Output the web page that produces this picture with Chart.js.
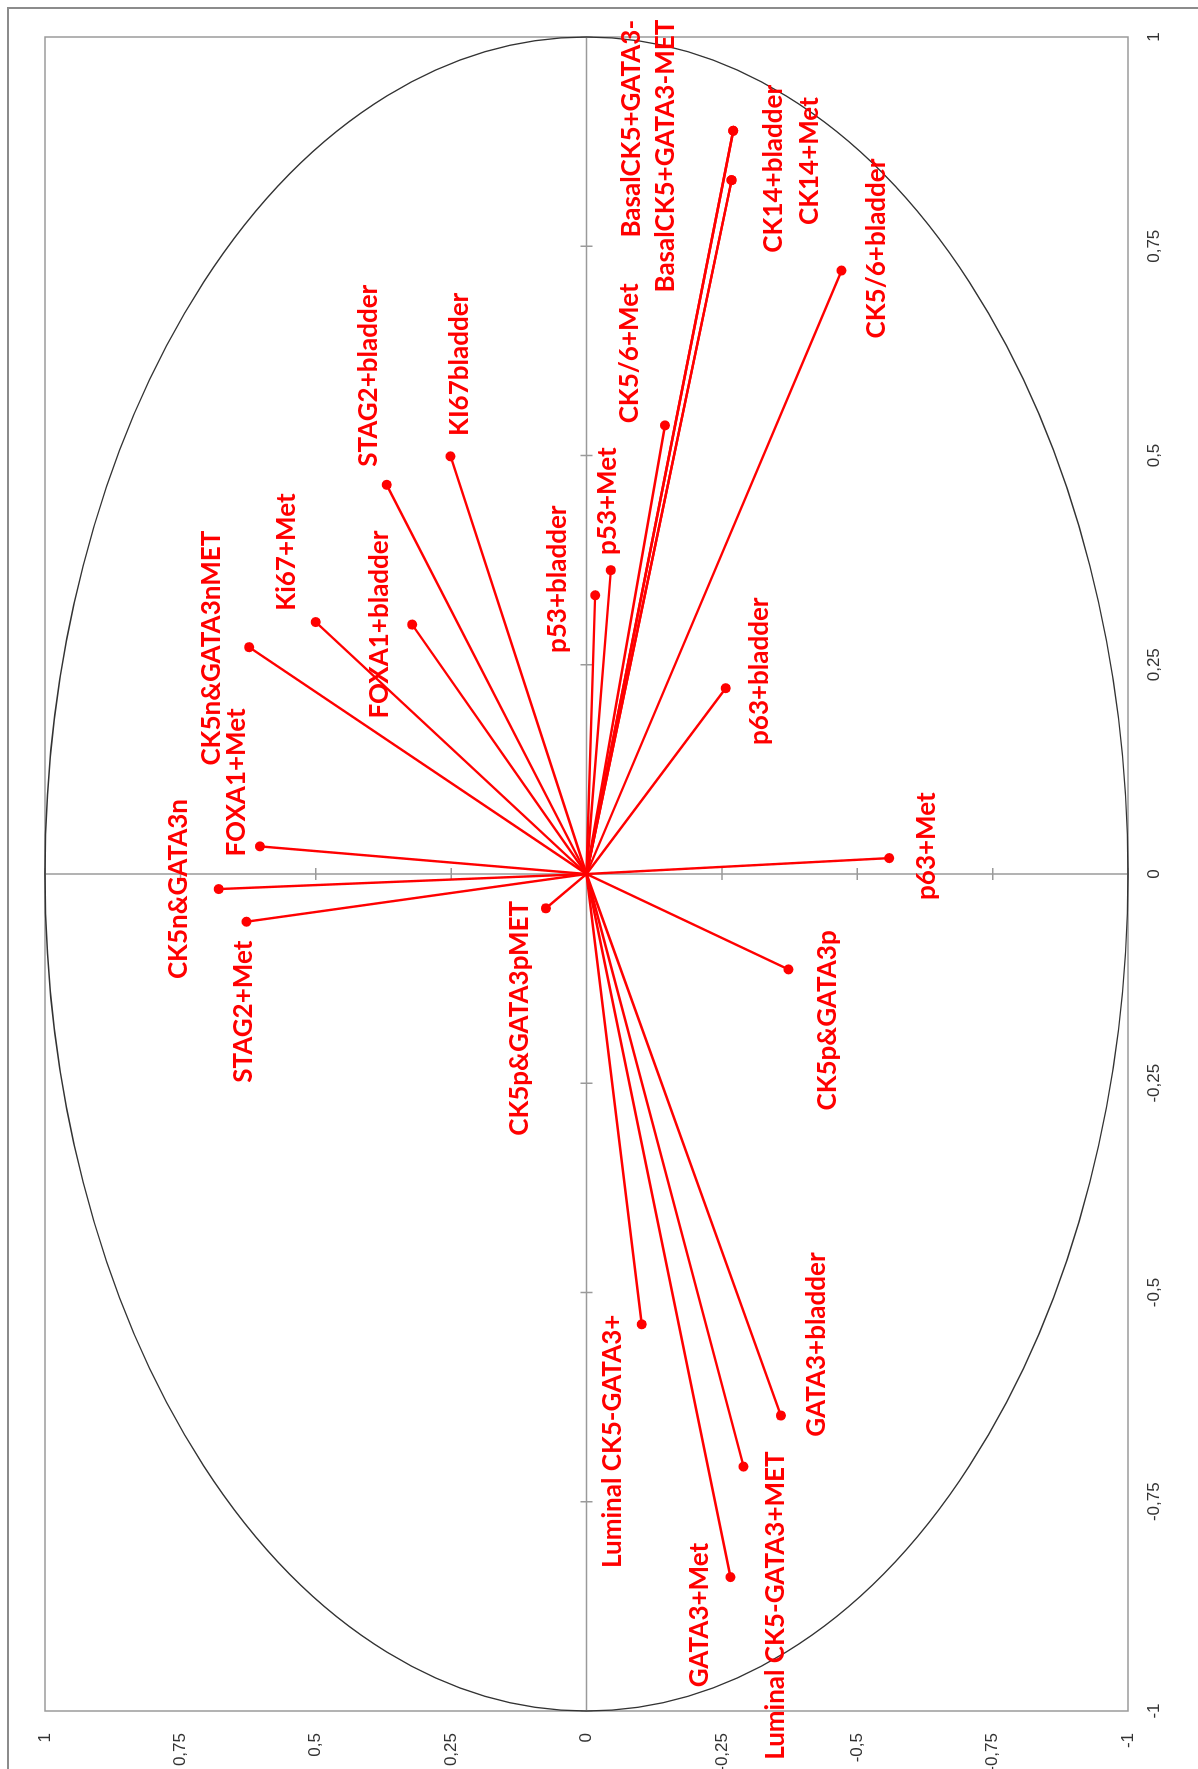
<!DOCTYPE html>
<html>
<head>
<meta charset="utf-8">
<title>Correlation circle</title>
<script src="https://cdn.jsdelivr.net/npm/chart.js@4/dist/chart.umd.min.js"></script>
<style>
  html, body { margin: 0; padding: 0; background: #fff; overflow: hidden; }
  body { width: 1198px; height: 1769px; position: relative; }
  /* the chart is laid out landscape and turned a quarter turn to the left */
  #turned {
    position: absolute; left: 0; top: 0;
    width: 1769px; height: 1198px;
    transform-origin: 0 0;
    transform: translateY(1769px) rotate(-90deg);
  }
</style>
</head>
<body>
<div id="turned"><canvas id="results" width="1769" height="1198"></canvas></div>
<script>
// variables and their correlations with the two factors
const variables = [
  'CK5/6+bladder', 'CK14+bladder', 'CK14+Met', 'BasalCK5+GATA3-', 'BasalCK5+GATA3-MET',
  'CK5/6+Met', 'p53+Met', 'p53+bladder', 'KI67bladder', 'STAG2+bladder',
  'Ki67+Met', 'FOXA1+bladder', 'CK5n&GATA3nMET', 'p63+bladder', 'FOXA1+Met',
  'CK5n&GATA3n', 'p63+Met', 'STAG2+Met', 'CK5p&GATA3pMET', 'CK5p&GATA3p',
  'Luminal CK5-GATA3+', 'GATA3+bladder', 'Luminal CK5-GATA3+MET', 'GATA3+Met'
];
const factor1 = [
  0.721, 0.888, 0.829, 0.888, 0.829,
  0.536, 0.363, 0.333, 0.499, 0.465,
  0.301, 0.298, 0.271, 0.222, 0.033,
  -0.018, 0.019, -0.057, -0.041, -0.114,
  -0.538, -0.647, -0.708, -0.840
];
const factor2 = [
  -0.471, -0.271, -0.268, -0.271, -0.268,
  -0.145, -0.045, -0.016, 0.251, 0.369,
  0.500, 0.322, 0.623, -0.257, 0.603,
  0.679, -0.559, 0.628, 0.075, -0.373,
  -0.102, -0.359, -0.290, -0.266
];
const tickValues = [-1, -0.75, -0.5, -0.25, 0, 0.25, 0.5, 0.75, 1];

// where each name sits relative to its point (px, before turning)
const labelShift = [
  [22, 35], [-38, 40], [19, 78], [2, -102], [24, -66],
  [72, -35], [69, -3], [16, -38], [92, 9], [109, -18],
  [70, -29], [0, -33], [-1, -38], [17, 34], [64, -23],
  [0, -40], [12, 37], [-90, -3], [-110, -26], [-51, 39],
  [-117, -29], [71, 36], [-139, 32], [-38, -31]
];

const red = '#ff0000';
const axisGrey = '#9a9a9a';

// decimal comma like the spreadsheet
function formatTick(value) {
  return String(value).replace('.', ',');
}

// one line from the origin to each variable, dot at the tip
function buildDatasets() {
  return variables.map((name, i) => {
    return {
      label: name,
      data: [{ x: 0, y: 0 }, { x: factor1[i], y: factor2[i] }],
      showLine: true,
      borderColor: red,
      borderWidth: 2.4,
      pointRadius: [0, 5],
      pointBackgroundColor: red,
      pointBorderWidth: 0
    };
  });
}

// frame, axes through zero with cross ticks and the unit circle
const circlePlugin = {
  id: 'circlePlugin',
  beforeDatasetsDraw(chart) {
    const ctx = chart.ctx;
    const area = chart.chartArea;
    const xs = chart.scales.x;
    const ys = chart.scales.y;
    const x0 = xs.getPixelForValue(0);
    const y0 = ys.getPixelForValue(0);

    ctx.save();
    // outer border of the chart
    ctx.strokeStyle = '#8c8c8c';
    ctx.lineWidth = 2;
    ctx.beginPath();
    ctx.moveTo(0, 8);
    ctx.lineTo(1761, 8);
    ctx.lineTo(1761, chart.height);
    ctx.stroke();

    // plot frame
    ctx.strokeStyle = axisGrey;
    ctx.lineWidth = 1.5;
    ctx.strokeRect(area.left, area.top, area.right - area.left, area.bottom - area.top);

    // axes
    ctx.beginPath();
    ctx.moveTo(area.left, y0);
    ctx.lineTo(area.right, y0);
    ctx.moveTo(x0, area.top);
    ctx.lineTo(x0, area.bottom);
    tickValues.forEach(v => {
      if (v === 0) return;
      let px = xs.getPixelForValue(v);
      let py = ys.getPixelForValue(v);
      ctx.moveTo(px, y0 - 6);
      ctx.lineTo(px, y0 + 6);
      ctx.moveTo(x0 - 6, py);
      ctx.lineTo(x0 + 6, py);
    });
    ctx.stroke();

    // correlation circle
    ctx.strokeStyle = '#333';
    ctx.lineWidth = 1.3;
    ctx.beginPath();
    ctx.ellipse(x0, y0, xs.getPixelForValue(1) - x0, y0 - ys.getPixelForValue(1), 0, 0, Math.PI * 2);
    ctx.stroke();
    ctx.restore();
  },
  afterDatasetsDraw(chart) {
    const ctx = chart.ctx;
    const xs = chart.scales.x;
    const ys = chart.scales.y;
    ctx.save();
    ctx.fillStyle = red;
    ctx.font = 'bold 26px Lato';
    ctx.textAlign = 'center';
    ctx.textBaseline = 'middle';
    variables.forEach((name, i) => {
      let px = xs.getPixelForValue(factor1[i]) + labelShift[i][0];
      let py = ys.getPixelForValue(factor2[i]) + labelShift[i][1];
      ctx.fillText(name, px, py);
    });
    ctx.restore();
  }
};

function createCircleChart() {
  let context = document.getElementById('results').getContext('2d');
  let tickFont = { family: 'Liberation Sans', size: 17 };

  return new Chart(context, {
    type: 'scatter',
    data: { datasets: buildDatasets() },
    options: {
      responsive: false,
      animation: false,
      layout: { padding: { left: 0, top: 45, right: 37, bottom: 0 } },
      plugins: {
        legend: { display: false },
        tooltip: { enabled: false }
      },
      scales: {
        x: {
          type: 'linear',
          min: -1,
          max: 1,
          afterFit: scale => { scale.height = 70; },
          grid: { display: false, drawTicks: false },
          border: { display: false },
          ticks: {
            stepSize: 0.25,
            padding: 16,
            color: '#333',
            font: tickFont,
            maxRotation: 0,
            autoSkip: false,
            callback: formatTick
          }
        },
        y: {
          type: 'linear',
          min: -1,
          max: 1,
          afterFit: scale => { scale.width = 58; },
          grid: { display: false, drawTicks: false },
          border: { display: false },
          ticks: {
            stepSize: 0.25,
            padding: 22,
            color: '#333',
            font: tickFont,
            autoSkip: false,
            callback: formatTick
          }
        }
      }
    },
    plugins: [circlePlugin]
  });
}

createCircleChart();
</script>
</body>
</html>
